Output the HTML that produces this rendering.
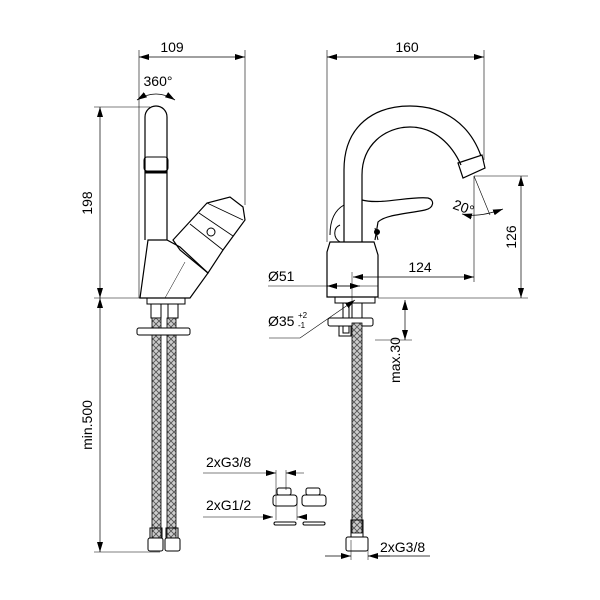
<!DOCTYPE html>
<html><head><style>body{margin:0;background:#fff}svg{display:block}</style></head><body>
<svg width="600" height="600" viewBox="0 0 600 600" xmlns="http://www.w3.org/2000/svg" font-family="Liberation Sans, sans-serif">
<defs>
<marker id="a" viewBox="0 0 10 6" refX="10" refY="3" markerWidth="10" markerHeight="6" orient="auto-start-reverse" markerUnits="userSpaceOnUse"><path d="M0,0L10,3L0,6z" fill="#000"/></marker>
<pattern id="br" width="6" height="6" patternUnits="userSpaceOnUse"><rect width="6" height="6" fill="#ccc"/><path d="M0,0L6,6M6,0L0,6" stroke="#555" stroke-width="0.9"/></pattern>
</defs>
<g fill="none" stroke="#000" stroke-width="1">
<line x1="139" y1="50" x2="139" y2="298" stroke-width="0.6"/>
<line x1="245" y1="50" x2="245" y2="205" stroke-width="0.6"/>
<line x1="139" y1="57" x2="245" y2="57" marker-start="url(#a)" marker-end="url(#a)" stroke-width="0.7"/>
<line x1="94" y1="107" x2="150" y2="107" stroke-width="0.6"/>
<line x1="94" y1="298" x2="145" y2="298" stroke-width="0.6"/>
<line x1="100" y1="107" x2="100" y2="298" marker-start="url(#a)" marker-end="url(#a)" stroke-width="0.7"/>
<line x1="100" y1="298" x2="100" y2="552" marker-start="url(#a)" marker-end="url(#a)" stroke-width="0.7"/>
<line x1="94" y1="552" x2="160" y2="552" stroke-width="0.6"/>
<path d="M137,100 Q156,88 175,100" marker-start="url(#a)" marker-end="url(#a)" stroke-width="0.8"/>
<path d="M145,240 L145,117 A11,11 0 0 1 167,117 L167,240" stroke-width="1.2"/>
<rect x="144" y="157" width="24" height="14" rx="3"/>
<line x1="145" y1="172" x2="167" y2="172" stroke-width="3"/>
<path d="M148,240 L167,240 L180,247 L208,273 L190,298 L140,298 Z" stroke-width="1.2"/>
<path d="M173,240 L207,203 L230,197 L243,207 L245,220 L223,250 L208,273 L180,250 Z" stroke-width="1.2"/>
<path d="M190,224 L223,250 M199,213 L233,236 M207,203 L243,220" stroke-width="0.8"/>
<circle cx="211" cy="232" r="4"/>
<line x1="165" y1="298" x2="185" y2="262" stroke-width="0.5"/>
<rect x="147" y="298" width="38" height="6"/>
<rect x="151" y="304" width="10" height="14"/>
<rect x="168" y="304" width="10" height="14"/>
<rect x="152" y="318" width="9" height="220" fill="url(#br)" stroke-width="0.8"/>
<rect x="167" y="318" width="9" height="220" fill="url(#br)" stroke-width="0.8"/>
<rect x="137" y="328" width="53" height="7" rx="2" fill="#fff"/>
<rect x="150" y="528" width="12" height="10"/><rect x="166" y="528" width="12" height="10"/>
<rect x="148" y="538" width="15" height="13" rx="2"/><rect x="165" y="538" width="15" height="13" rx="2"/>
<line x1="327" y1="50" x2="327" y2="242" stroke-width="0.6"/>
<line x1="484" y1="50" x2="484" y2="160" stroke-width="0.6"/>
<line x1="327" y1="57" x2="484" y2="57" marker-start="url(#a)" marker-end="url(#a)" stroke-width="0.7"/>
<line x1="474" y1="176" x2="528" y2="176" stroke-width="0.6"/>
<line x1="378" y1="298" x2="528" y2="298" stroke-width="0.6"/>
<line x1="521" y1="176" x2="521" y2="298" marker-start="url(#a)" marker-end="url(#a)" stroke-width="0.7"/>
<line x1="474" y1="176" x2="474" y2="282" stroke-width="0.6"/>
<line x1="353" y1="277" x2="474" y2="277" marker-start="url(#a)" marker-end="url(#a)" stroke-width="0.7"/>
<line x1="352" y1="272" x2="352" y2="305" stroke-width="0.5"/>
<line x1="268" y1="286" x2="378" y2="286" stroke-width="0.6"/>
<line x1="327" y1="286" x2="360" y2="286" marker-start="url(#a)" marker-end="url(#a)" stroke-width="0.7"/>
<line x1="474" y1="176" x2="490" y2="215" stroke-width="0.6"/>
<path d="M462,214 Q478,218 503,209" marker-start="url(#a)" marker-end="url(#a)" stroke-width="0.7"/>
<path d="M269,338 L300,338 L355,300" stroke-width="0.6" marker-end="url(#a)"/>
<line x1="405" y1="300" x2="405" y2="340" marker-start="url(#a)" marker-end="url(#a)" stroke-width="0.7"/>
<line x1="375" y1="340" x2="412" y2="340" stroke-width="0.6"/>
<path d="M344,242 L344,170 C344,125 375,106 410,106 C445,106 470,125 481,156" stroke-width="1.2"/>
<path d="M362,242 L362,175 C362,145 385,127 410,127 C435,127 452,145 461,165" stroke-width="1.2"/>
<path d="M458,163 L482,155 L485,168 L463,178 Z" stroke-width="1.2"/>
<path d="M362,200 C380,205 410,196 428,198 C435,200 434,208 425,210 C405,214 385,215 378,222 L375,240" stroke-width="1.2"/>
<path d="M344,205 C335,210 330,220 330,235 M340,225 C333,228 333,238 340,242 M375,228 L378,240" stroke-width="1"/>
<circle cx="377" cy="232" r="2.5" fill="#000"/>
<path d="M330,242 L374,242 L378,255 L378,297 L327,297 L327,252 Z" stroke-width="1.2"/>
<rect x="335" y="297" width="40" height="6"/>
<rect x="343" y="303" width="6" height="30"/><rect x="352" y="303" width="10" height="20"/>
<rect x="328" y="318" width="45" height="8" rx="2" fill="#fff"/>
<rect x="339" y="326" width="12" height="10"/>
<rect x="352" y="323" width="10" height="210" fill="url(#br)" stroke-width="0.8"/>
<rect x="351" y="520" width="12" height="17"/>
<rect x="346" y="537" width="22" height="14" rx="2"/>
<line x1="351" y1="540" x2="351" y2="560" stroke-width="0.5"/><line x1="368" y1="540" x2="368" y2="560" stroke-width="0.5"/>
<line x1="325" y1="556" x2="351" y2="556" marker-end="url(#a)" stroke-width="0.7"/>
<line x1="368" y1="556" x2="430" y2="556" stroke-width="0.7"/>
<line x1="390" y1="556" x2="368" y2="556" marker-end="url(#a)" stroke-width="0.7"/>
<line x1="203" y1="473" x2="276" y2="473" marker-end="url(#a)" stroke-width="0.6"/>
<line x1="304" y1="473" x2="286" y2="473" marker-end="url(#a)" stroke-width="0.6"/>
<line x1="276" y1="470" x2="276" y2="520" stroke-width="0.5"/><line x1="286" y1="470" x2="286" y2="490" stroke-width="0.5"/>
<line x1="203" y1="517" x2="273" y2="517" marker-end="url(#a)" stroke-width="0.6"/>
<line x1="306" y1="517" x2="297" y2="517" marker-end="url(#a)" stroke-width="0.6"/>
<line x1="297" y1="500" x2="297" y2="520" stroke-width="0.5"/>
<rect x="277" y="488" width="14" height="7" rx="2"/><rect x="273" y="495" width="24" height="11" rx="3"/>
<rect x="306" y="488" width="14" height="7" rx="2"/><rect x="302" y="495" width="24" height="11" rx="3"/>
<rect x="274" y="522" width="22" height="3" rx="1.5"/><rect x="303" y="522" width="22" height="3" rx="1.5"/>
</g>
<g font-size="14" fill="#000">
<text x="172" y="52" text-anchor="middle">109</text>
<text x="407" y="52" text-anchor="middle">160</text>
<text x="158" y="86" text-anchor="middle">360°</text>
<text x="92" y="203" text-anchor="middle" transform="rotate(-90 92 203)">198</text>
<text x="92" y="425" text-anchor="middle" transform="rotate(-90 92 425)">min.500</text>
<text x="516" y="237" text-anchor="middle" transform="rotate(-90 516 237)">126</text>
<text x="420" y="272" text-anchor="middle">124</text>
<text x="462" y="212" transform="rotate(20 462 212)" text-anchor="middle">20°</text>
<text x="268" y="281">Ø51</text>
<text x="268" y="326">Ø35</text>
<text x="298" y="318" font-size="8">+2</text>
<text x="298" y="328" font-size="8">-1</text>
<text x="400" y="360" text-anchor="middle" transform="rotate(-90 400 360)">max.30</text>
<text x="206" y="467">2xG3/8</text>
<text x="206" y="510">2xG1/2</text>
<text x="380" y="552">2xG3/8</text>
</g>
</svg>
</body></html>
